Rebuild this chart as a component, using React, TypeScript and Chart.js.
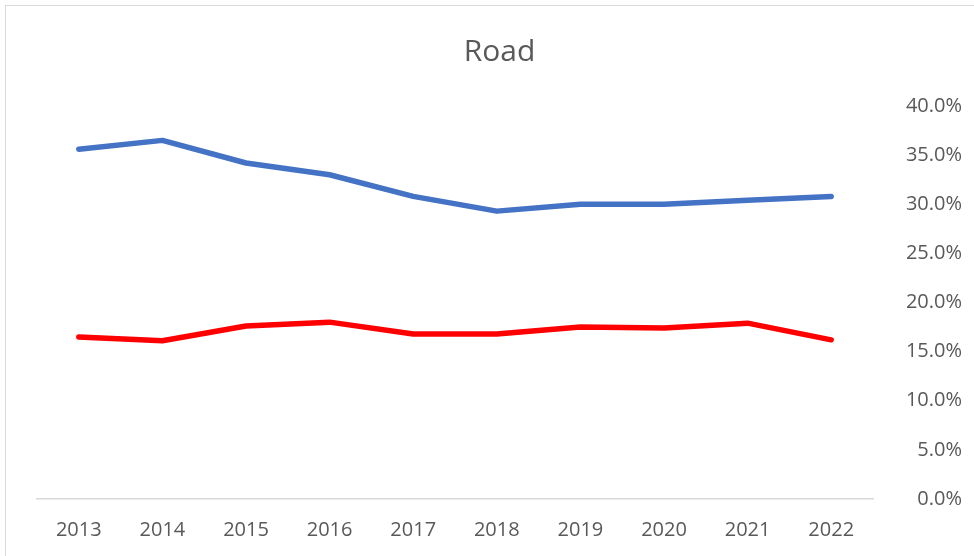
import React, { useEffect, useRef } from "react";
import { Chart, registerables } from "chart.js";

Chart.register(...registerables);

const years = ["2013", "2014", "2015", "2016", "2017", "2018", "2019", "2020", "2021", "2022"];
const blueSeries = [35.6, 36.5, 34.2, 33.0, 30.8, 29.3, 30.0, 30.0, 30.4, 30.8];
const redSeries = [16.5, 16.1, 17.6, 18.0, 16.8, 16.8, 17.5, 17.4, 17.9, 16.2];
const yMin = 0;
const yMax = 40;
const yStep = 5;

const FONT = "'Open Sans', sans-serif";
const TEXT = "#595959";

export default function App() {
  const ref = useRef<HTMLCanvasElement | null>(null);

  useEffect(() => {
    document.body.style.margin = "0";
    document.body.style.overflow = "hidden";
    if (!ref.current) return;
    const chart = new Chart(ref.current, {
      type: "line",
      data: {
        labels: years,
        datasets: [
          {
            label: "Series 1",
            data: blueSeries,
            borderColor: "#4472C4",
            backgroundColor: "#4472C4",
            borderWidth: 5.5,
            pointRadius: 0,
            borderCapStyle: "round",
            borderJoinStyle: "round",
            tension: 0,
          },
          {
            label: "Series 2",
            data: redSeries,
            borderColor: "#FF0000",
            backgroundColor: "#FF0000",
            borderWidth: 5.5,
            pointRadius: 0,
            borderCapStyle: "round",
            borderJoinStyle: "round",
            tension: 0,
          },
        ],
      },
      options: {
        animation: false,
        responsive: false,
        maintainAspectRatio: false,
        layout: { padding: { left: 37, right: 12, top: 0, bottom: 0 } },
        plugins: {
          legend: { display: false },
          tooltip: { enabled: false },
          title: {
            display: true,
            text: "Road",
            color: TEXT,
            font: { family: FONT, size: 30, weight: "normal", lineHeight: 1.2 },
            padding: { top: 34, bottom: 36 },
          },
        },
        scales: {
          x: {
            offset: true,
            grid: { display: false, drawTicks: false },
            border: { display: true, color: "#D9D9D9", width: 1.5 },
            ticks: {
              color: TEXT,
              font: { family: FONT, size: 20 },
              padding: 19,
              maxRotation: 0,
              autoSkip: false,
            },
            afterFit: (s: any) => {
              s.height = 57;
            },
          },
          y: {
            position: "right",
            min: yMin,
            max: yMax,
            grid: { display: false, drawTicks: false },
            border: { display: false },
            ticks: {
              stepSize: yStep,
              color: TEXT,
              font: { family: FONT, size: 20 },
              crossAlign: "far",
              callback: (v: any) => Number(v).toFixed(1) + "%",
            },
            afterFit: (s: any) => {
              s.width = 89;
            },
          },
        },
      },
    });
    return () => chart.destroy();
  }, []);

  return (
    <div style={{ position: "fixed", left: 0, top: 0, width: 974, height: 556, overflow: "hidden", background: "#fff" }}>
      <canvas ref={ref} width={974} height={556} style={{ position: "absolute", left: 0, top: 0, width: 974, height: 556 }} />
      <div
        style={{
          position: "absolute",
          left: 5,
          top: 5,
          width: 1000,
          height: 600,
          border: "1.5px solid #D9D9D9",
          boxSizing: "border-box",
          pointerEvents: "none",
        }}
      />
    </div>
  );
}
